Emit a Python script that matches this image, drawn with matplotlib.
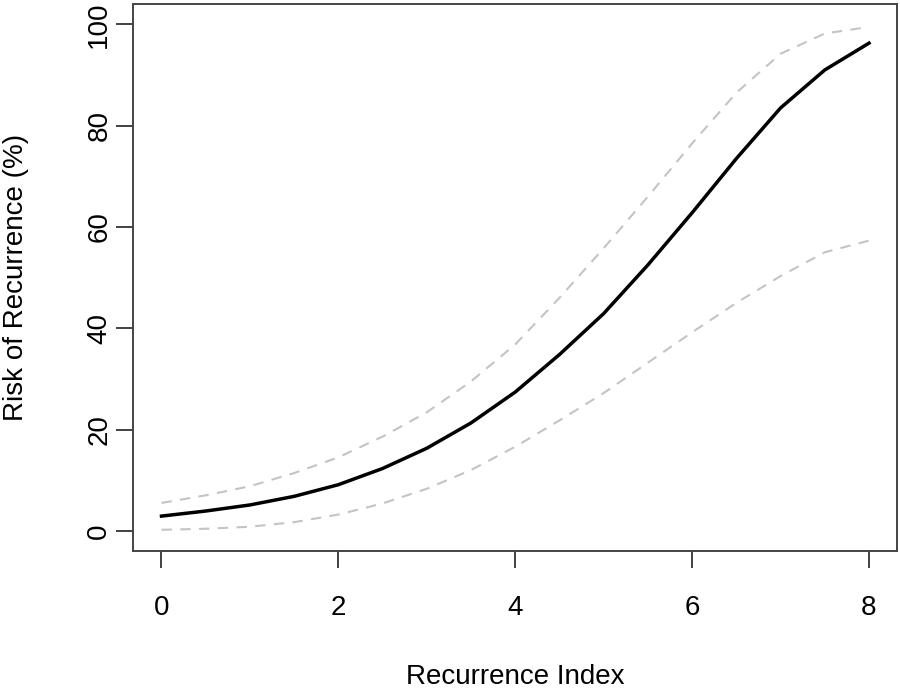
import matplotlib
matplotlib.use("Agg")
import matplotlib.pyplot as plt

x = [0, 0.5, 1, 1.5, 2, 2.5, 3, 3.5, 4, 4.5, 5, 5.5, 6, 6.5, 7, 7.5, 8]
risk = [2.9, 3.9, 5.1, 6.8, 9.1, 12.3, 16.3, 21.3, 27.4, 34.8, 42.9, 52.5, 62.8, 73.5, 83.5, 91.0, 96.3]
upper = [5.5, 7.0, 8.8, 11.4, 14.5, 18.6, 23.4, 29.5, 36.8, 46.0, 55.8, 66.0, 76.5, 86.5, 94.2, 98.2, 99.5]
lower = [0.2, 0.4, 0.8, 1.7, 3.2, 5.4, 8.3, 12.0, 16.6, 21.8, 27.2, 33.2, 39.2, 45.0, 50.3, 55.0, 57.3]

xticks = [0, 2, 4, 6, 8]
yticks = [0, 20, 40, 60, 80, 100]

plt.rcParams['font.family'] = ['Liberation Sans', 'DejaVu Sans']

fig = plt.figure(figsize=(9, 6.9), dpi=100)
ax = fig.add_axes([0.148, 0.2014, 0.849, 0.7926])

ax.plot(x, upper, color='#c4c4c4', lw=1.5, ls=(0, (5, 4)))
ax.plot(x, lower, color='#c4c4c4', lw=1.5, ls=(0, (5, 4)))
ax.plot(x, risk, color='black', lw=2.5)

ax.set_xlim(-0.32, 8.32)
ax.set_ylim(-4, 104)
ax.set_xticks(xticks)
ax.set_yticks(yticks)
ax.set_xticklabels([str(v) for v in xticks])
ax.set_yticklabels([str(v) for v in yticks], rotation=90, va='center')
ax.tick_params(direction='out', length=12, width=1.3, colors='#333333',
               labelsize=20, labelcolor='black')
ax.tick_params(axis='x', pad=20)
ax.tick_params(axis='y', pad=3)
for s in ax.spines.values():
    s.set_color('#444444')
    s.set_linewidth(1.4)

ax.set_xlabel('Recurrence Index', fontsize=20)
ax.set_ylabel('Risk of Recurrence (%)', fontsize=20)
ax.xaxis.set_label_coords(0.5, -0.206)
ax.yaxis.set_label_coords(-0.137, 0.5)

fig.savefig('out.png', dpi=100)
